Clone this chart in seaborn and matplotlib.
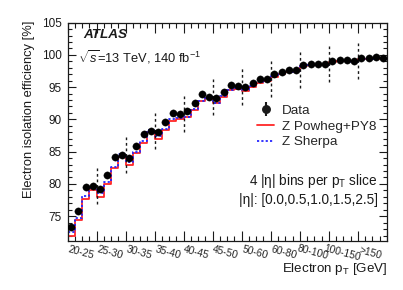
import numpy as np
import pandas as pd
import matplotlib
matplotlib.use("Agg")
import matplotlib.pyplot as plt
import seaborn as sns
from matplotlib.lines import Line2D
from matplotlib.ticker import MultipleLocator, NullFormatter

# pT slices, each split in 4 |eta| bins
pt_slices = ["20-25", "25-30", "30-35", "35-40", "40-45", "45-50",
             "50-60", "60-80", "80-100", "100-150", ">150"]
n_eta = 4

data_eff = [73.3, 75.8, 79.5, 79.7, 79.2, 81.4, 84.2, 84.5,
            84.0, 85.9, 87.8, 88.2, 88.0, 89.6, 91.0, 90.9,
            91.3, 92.6, 93.9, 93.5, 93.3, 94.3, 95.3, 95.1,
            95.0, 95.6, 96.2, 96.2, 97.0, 97.3, 97.6, 97.7,
            98.4, 98.6, 98.6, 98.6, 99.1, 99.2, 99.2, 99.1,
            99.5, 99.5, 99.6, 99.5]
powheg_eff = [72.0, 74.4, 77.6, 79.1, 78.0, 80.0, 82.4, 84.1,
              83.0, 84.8, 86.4, 88.0, 87.0, 88.4, 89.8, 90.0,
              90.3, 91.5, 92.8, 93.3, 92.5, 93.5, 94.5, 94.7,
              94.4, 95.0, 95.7, 96.0, 96.6, 97.0, 97.3, 97.5,
              98.2, 98.4, 98.5, 98.5, 98.9, 99.0, 99.1, 99.0,
              99.3, 99.4, 99.5, 99.4]
sherpa_eff = [72.6, 74.7, 78.1, 79.4, 78.6, 80.3, 82.6, 84.7,
              83.4, 85.0, 86.7, 88.3, 87.4, 88.5, 90.0, 90.2,
              90.4, 91.6, 92.9, 93.4, 92.6, 93.6, 94.6, 94.8,
              94.5, 95.1, 95.8, 96.1, 96.7, 97.1, 97.3, 97.5,
              98.2, 98.4, 98.5, 98.5, 98.9, 99.0, 99.0, 98.9,
              99.3, 99.3, 99.4, 99.3]

RED = "#ff2626"
BLUE = "#2626ff"

sns.set_theme(style="ticks")
plt.rcParams["font.family"] = ["Liberation Sans", "DejaVu Sans"]
plt.rcParams["mathtext.fontset"] = "custom"
plt.rcParams["mathtext.rm"] = "Liberation Sans"
plt.rcParams["mathtext.it"] = "Liberation Sans:italic"
plt.rcParams["mathtext.bf"] = "Liberation Sans:bold"

nbins = len(data_eff)
edges = list(range(nbins + 1))
df = pd.DataFrame({"bin": np.arange(nbins) + 0.5, "data": data_eff,
                   "powheg": powheg_eff, "sherpa": sherpa_eff})

fig = plt.figure(figsize=(4.03, 2.90), dpi=100)
ax = fig.add_axes([0.1675, 0.170, 0.7925, 0.752])

sns.histplot(data=df, x="bin", weights="powheg", bins=edges, element="step",
             fill=False, color=RED, lw=1.3, ax=ax)
sns.histplot(data=df, x="bin", weights="sherpa", bins=edges, element="step",
             fill=False, color=BLUE, lw=1.3, ls=(0, (1.2, 1.2)), ax=ax)

# dashed separators between pT slices
for b in range(n_eta, nbins, n_eta):
    mid = data_eff[b - 1]
    ax.vlines(b, mid - 2.8, mid + 2.8, colors="k", lw=1.0,
              linestyles=(0, (2, 2)), zorder=3)

sns.scatterplot(data=df, x="bin", y="data", color="black", s=28,
                edgecolor="black", linewidth=0.2, zorder=5, legend=False, ax=ax)

ax.set_xlim(0, nbins)
ax.set_ylim(71.2, 105)
ax.xaxis.set_major_locator(MultipleLocator(n_eta))
ax.xaxis.set_minor_locator(MultipleLocator(1))
ax.xaxis.set_major_formatter(NullFormatter())
ax.yaxis.set_major_locator(MultipleLocator(5))
ax.yaxis.set_minor_locator(MultipleLocator(1))
ax.tick_params(which="both", direction="in", top=True, right=True,
               width=0.8, color="k")
ax.tick_params(axis="x", which="major", length=7)
ax.tick_params(axis="x", which="minor", length=3.8)
ax.tick_params(axis="y", which="major", length=6, labelsize=8.5, pad=4,
               labelcolor="k")
ax.tick_params(axis="y", which="minor", length=3)
for s in ax.spines.values():
    s.set_linewidth(0.9)
    s.set_color("k")

for i, lab in enumerate(pt_slices):
    ax.text(i * n_eta + n_eta / 2 - 0.2, -0.055, lab, transform=ax.get_xaxis_transform(),
            rotation=-15, ha="center", va="center", fontsize=7.4)

ax.set_xlabel("Electron p$_\\mathrm{T}$ [GeV]", fontsize=9.6, ha="right", color="k")
ax.xaxis.set_label_coords(1.0, -0.095)
ax.set_ylabel("Electron isolation efficiency [%]", fontsize=9.3, ha="right", color="k")
ax.yaxis.set_label_coords(-0.102, 1.01)

h_data = ax.errorbar([np.nan], [np.nan], yerr=[1], fmt="o", color="k", ms=5.4)
h_pw = Line2D([], [], color=RED, lw=1.3)
h_sh = Line2D([], [], color=BLUE, lw=1.3, ls=(0, (1.2, 1.2)))
ax.legend([h_data, h_pw, h_sh], ["Data", "Z Powheg+PY8", "Z Sherpa"],
          loc="upper left", bbox_to_anchor=(0.593, 0.625), frameon=False,
          fontsize=9.7, handlelength=1.3, handletextpad=0.55,
          labelspacing=0.25, borderpad=0, borderaxespad=0)

fig.text(83 / 403, 1 - 35 / 290, "ATLAS", fontsize=9.7, fontweight="bold",
         fontstyle="italic", va="center", color="k")
fig.text(78 / 403, 1 - 57 / 290, "$\\sqrt{s}$=13 TeV, 140 fb$^{-1}$",
         fontsize=9.3, va="center", color="k")
fig.text(377 / 403, 1 - 181 / 290, "4 |η| bins per p$_\\mathrm{T}$ slice",
         fontsize=9.8, ha="right", va="center", color="k")
fig.text(378 / 403, 1 - 200 / 290, "|η|: [0.0,0.5,1.0,1.5,2.5]",
         fontsize=9.8, ha="right", va="center", color="k")

fig.savefig("out.png", dpi=100)
